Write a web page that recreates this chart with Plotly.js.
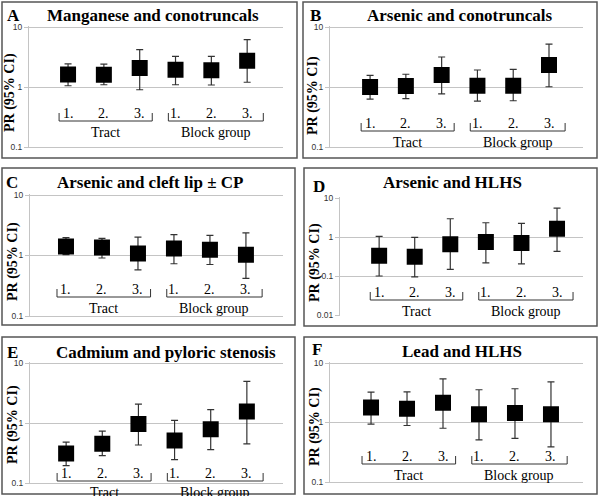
<!DOCTYPE html>
<html>
<head>
<meta charset="utf-8">
<script src="https://cdn.plot.ly/plotly-3.0.1.min.js"></script>
<style>body{margin:0;background:#fff}#plot{width:600px;height:496px}</style>
</head>
<body>
<div id="plot"></div>
<script>
var cats = [1, 2, 3, 4, 5, 6];
var catLabels = ['1.', '2.', '3.', '1.', '2.', '3.'];
var groupLabels = ['Tract', 'Block group'];
var letters = ['A', 'B', 'C', 'D', 'E', 'F'];
var titles = ['Manganese and conotruncals', 'Arsenic and conotruncals', 'Arsenic and cleft lip \u00b1 CP',
  'Arsenic and HLHS', 'Cadmium and pyloric stenosis', 'Lead and HLHS'];

// prevalence ratios with 95% CI
var prA = [1.61, 1.60, 2.07, 1.94, 1.90, 2.75];
var loA = [1.05, 1.09, 0.90, 1.09, 1.08, 1.20];
var hiA = [2.42, 2.40, 4.19, 3.24, 3.24, 6.15];

var prB = [1.00, 1.04, 1.58, 1.05, 1.05, 2.33];
var loB = [0.63, 0.64, 0.77, 0.58, 0.59, 1.01];
var hiB = [1.56, 1.63, 3.16, 1.92, 1.97, 5.20];

var prC = [1.41, 1.36, 1.08, 1.31, 1.24, 1.03];
var loC = [1.03, 0.91, 0.58, 0.73, 0.71, 0.42];
var hiC = [1.97, 1.92, 2.02, 2.21, 2.15, 2.36];

var prD = [0.33, 0.31, 0.65, 0.745, 0.70, 1.63];
var loD = [0.10, 0.095, 0.147, 0.217, 0.205, 0.43];
var hiD = [1.04, 0.98, 2.94, 2.32, 2.23, 5.50];

var prE = [0.31, 0.45, 0.96, 0.51, 0.79, 1.55];
var loE = [0.195, 0.285, 0.43, 0.245, 0.36, 0.45];
var hiE = [0.48, 0.73, 2.07, 1.11, 1.67, 4.95];

var prF = [1.78, 1.71, 2.15, 1.38, 1.45, 1.38];
var loF = [0.94, 0.89, 0.80, 0.51, 0.54, 0.39];
var hiF = [3.24, 3.28, 5.40, 3.55, 3.69, 4.82];

var W = 600, H = 496;
// box: l,t,r,b ; plot: left,right,top grid px,bottom grid px
var panels = [
  {pr: prA, lo: loA, hi: hiA, box: [2, 2, 297, 158], plot: [29, 283, 27, 147], dec: [-1, 1], xr: [-0.09, 7.0], lab: 113, title: [153, 15], letter: [13, 15], ylab: [10, 93]},
  {pr: prB, lo: loB, hi: hiB, box: [303, 2, 597, 158], plot: [330, 583, 27, 147], dec: [-1, 1], xr: [-0.12, 6.95], lab: 123, title: [460, 15], letter: [316, 15], ylab: [313, 95]},
  {pr: prC, lo: loC, hi: hiC, box: [2, 168, 295, 325], plot: [30, 283, 195, 316], dec: [-1, 1], xr: [0.0, 7.03], lab: 289, title: [150, 183], letter: [12, 183], ylab: [13, 262]},
  {pr: prD, lo: loD, hi: hiD, box: [304, 168, 597, 326], plot: [340, 583, 198, 315], dec: [-2, 1], xr: [-0.1, 6.73], lab: 292, title: [452, 183], letter: [319, 187], ylab: [315, 263]},
  {pr: prE, lo: loE, hi: hiE, box: [2, 337, 295, 494], plot: [30, 283, 363, 483], dec: [-1, 1], xr: [0.0, 7.0], lab: 473, title: [166, 352], letter: [12, 352], ylab: [13, 425]},
  {pr: prF, lo: loF, hi: hiF, box: [304, 337, 597, 494], plot: [330, 583, 363, 482], dec: [-1, 1], xr: [-0.14, 6.89], lab: 456, title: [462, 351], letter: [317, 349], ylab: [315, 427]}
];

var serif = 'Liberation Serif';
var data = [];
var layout = {
  width: W, height: H,
  margin: {l: 0, r: 0, t: 0, b: 0},
  paper_bgcolor: '#fff', plot_bgcolor: '#fff',
  showlegend: false,
  shapes: [], annotations: []
};

function px(x) { return x / W; }
function py(y) { return 1 - y / H; }

panels.forEach(function (p, i) {
  var n = i === 0 ? '' : String(i + 1);
  var xa = 'x' + n, ya = 'y' + n;
  var pad = 0.02;
  var decPx = (p.plot[3] - p.plot[2]) / (p.dec[1] - p.dec[0]);
  var topPx = p.plot[2] - pad * decPx, botPx = p.plot[3] + pad * decPx;
  var tv = [], tt = [];
  for (var d = p.dec[0]; d <= p.dec[1]; d++) { tv.push(Math.pow(10, d)); tt.push(String(Math.pow(10, d).toFixed(Math.max(0, -d)))); }

  data.push({
    type: 'scatter', mode: 'markers', xaxis: xa, yaxis: ya,
    x: cats, y: p.pr,
    marker: {symbol: 'square', size: 16, color: '#000'},
    error_y: {
      type: 'data', symmetric: false,
      array: p.hi.map(function (v, k) { return v - p.pr[k]; }),
      arrayminus: p.lo.map(function (v, k) { return p.pr[k] - v; }),
      color: '#333', thickness: 1.2, width: 3.5
    },
    hoverinfo: 'y'
  });

  layout['xaxis' + n] = {
    domain: [px(p.plot[0]), px(p.plot[1])], range: p.xr, anchor: ya,
    showgrid: false, zeroline: false, showticklabels: false, showline: false, ticks: ''
  };
  layout['yaxis' + n] = {
    type: 'log', domain: [py(botPx), py(topPx)], range: [p.dec[0] - pad, p.dec[1] + pad], anchor: xa,
    tickvals: tv, ticktext: tt, showgrid: true, gridcolor: '#c4c4c4', gridwidth: 1,
    showline: true, linecolor: '#c4c4c4', linewidth: 1, zeroline: false,
    ticks: 'outside', ticklen: 4, tickcolor: '#c4c4c4',
    tickfont: {family: 'Liberation Sans', size: 8.5, color: '#333'}
  };

  // panel frame
  layout.shapes.push({type: 'rect', xref: 'paper', yref: 'paper',
    x0: px(p.box[0]), x1: px(p.box[2]), y0: py(p.box[3]), y1: py(p.box[1]),
    line: {color: '#555', width: 1.5}});

  // group brackets
  var yd = function (y) { return (botPx - y) / (botPx - topPx); };
  var bt = yd(p.lab), bb = yd(p.lab + 8);
  [[0.75, 3.35], [3.8, 6.45]].forEach(function (g, gi) {
    var ln = {color: '#333', width: 1};
    layout.shapes.push({type: 'line', xref: xa, yref: ya + ' domain', x0: g[0], x1: g[0], y0: bt, y1: bb, line: ln});
    layout.shapes.push({type: 'line', xref: xa, yref: ya + ' domain', x0: g[0], x1: g[1], y0: bb, y1: bb, line: ln});
    layout.shapes.push({type: 'line', xref: xa, yref: ya + ' domain', x0: g[1], x1: g[1], y0: bb, y1: bt, line: ln});
    layout.annotations.push({xref: xa, yref: ya + ' domain', x: (g[0] + g[1]) / 2, y: yd(p.lab + 19),
      xanchor: 'center', yanchor: 'middle',
      text: groupLabels[gi], showarrow: false, font: {family: serif, size: 14, color: '#000'}});
  });
  cats.forEach(function (c, k) {
    layout.annotations.push({xref: xa, yref: ya + ' domain', x: c, y: yd(p.lab),
      xanchor: 'center', yanchor: 'middle',
      text: catLabels[k], showarrow: false, font: {family: serif, size: 14, color: '#000'}});
  });

  // titles
  var an = {xanchor: 'center', yanchor: 'middle', showarrow: false, xref: 'paper', yref: 'paper'};
  var bold = function (s) { return {family: serif, size: s, color: '#000', weight: 700}; };
  layout.annotations.push(Object.assign({}, an, {x: px(p.title[0]), y: py(p.title[1]),
    text: titles[i], font: bold(17)}));
  layout.annotations.push(Object.assign({}, an, {x: px(p.letter[0]), y: py(p.letter[1]),
    text: letters[i], font: bold(17)}));
  layout.annotations.push(Object.assign({}, an, {x: px(p.ylab[0]), y: py(p.ylab[1]), textangle: -90,
    text: 'PR (95% CI)', font: bold(14)}));
});

Plotly.newPlot('plot', data, layout, {displayModeBar: false, staticPlot: true});
</script>
</body>
</html>
